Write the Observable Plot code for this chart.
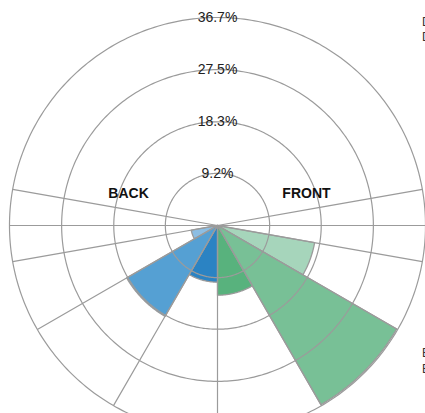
<!DOCTYPE html>
<html><head><meta charset="utf-8">
<script src="https://cdn.jsdelivr.net/npm/d3@7"></script>
<script src="https://cdn.jsdelivr.net/npm/@observablehq/plot@0.6"></script>
<style>
html,body{margin:0;padding:0;background:#fff;overflow:hidden;width:425px;height:413px;}
#chart{position:relative;width:425px;height:413px;overflow:hidden;}
#chart svg{display:block;}
.leg{position:absolute;left:422px;font:12px "Liberation Sans",Arial,sans-serif;line-height:14px;color:#333;white-space:nowrap;}
</style></head><body><div id="chart"></div>
<script>
// sector categories (angles: degrees clockwise from the FRONT direction, pointing right)
const categories = ["Front 10–30°", "Front 30–60°", "Front 60–90°", "Back 90–120°", "Back 120–150°", "Back 150–170°"];
const angleStart = [10, 30, 60, 90, 120, 150];
const angleEnd   = [30, 60, 90, 120, 150, 170];
const shares     = [17.4, 36.5, 12.3, 10.0, 18.5, 4.7];
const colors     = ["#a6d5bb", "#78c096", "#58b27d", "#2b83c3", "#55a0d3", "#8dbee3"];
// grid
const gridAngles  = [-10, 0, 10, 30, 60, 90, 120, 150, 170, 180, 190];
const radialTicks = [9.2, 18.3, 27.5, 36.7];
const maxShare = 36.7;
// side labels
const sideLabels = ["FRONT", "BACK"];
const sideAngles = [-20, 200];
const sideShares = [16.7, 16.7];
// legend (cut off at the right edge in the reference)
const legendTop = ["Driver side", "Driver rear"];
const legendBottom = ["Exterior front", "Exterior rear"];

const lon = a => 90 - a;      // screen angle -> longitude (pole-centred azimuthal projection)
const lat = v => 90 - v;      // share -> latitude (distance from pole)

function sector(a0, a1, v, category) {
  const ring = [[lon(a0), 90]];
  const n = Math.max(8, Math.round((a1 - a0) * 2));
  for (let i = 0; i <= n; i++) ring.push([lon(a0 + (a1 - a0) * i / n), lat(v)]);
  ring.push([lon(a0), 90]);
  const f = {type: "Feature", properties: {category}, geometry: {type: "Polygon", coordinates: [ring]}};
  if (d3.geoArea(f) > 2 * Math.PI) ring.reverse();
  return f;
}
const sectors = categories.map((c, i) => sector(angleStart[i], angleEnd[i], shares[i], c));
const sides = sideLabels.map((t, i) => ({t, a: sideAngles[i], v: sideShares[i]}));

const grid = "#9b9b9b";
const plot = Plot.plot({
  width: 425,
  height: 413,
  marginLeft: 9,
  marginRight: 0,
  marginTop: 17,
  marginBottom: -20,
  projection: {
    type: "azimuthal-equidistant",
    rotate: [0, -90],
    domain: d3.geoCircle().center([0, 90]).radius(maxShare)(),
    clip: false
  },
  color: {domain: categories, range: colors},
  style: {fontFamily: "'Liberation Sans', Arial, sans-serif", overflow: "visible", background: "#fff"},
  marks: [
    Plot.geo(sectors, {fill: d => d.properties.category, stroke: grid, strokeWidth: 1.3}),
    Plot.geo(radialTicks, {geometry: r => d3.geoCircle().center([0, 90]).radius(r).precision(1)(), fill: "none", stroke: grid, strokeWidth: 1.2}),
    Plot.link(gridAngles, {x1: a => lon(a), y1: () => 90, x2: a => lon(a), y2: () => lat(maxShare), stroke: grid, strokeWidth: 1.2}),
    Plot.text(radialTicks, {x: () => -180, y: d => lat(d), text: d => d + "%", fontSize: 14, fill: "#222", lineAnchor: "middle", textAnchor: "middle"}),
    Plot.text(sides, {x: d => lon(d.a), y: d => lat(d.v), text: "t", fontSize: 14, fontWeight: "bold", fill: "#111", lineAnchor: "middle", textAnchor: "middle"})
  ]
});
const chart = document.getElementById("chart");
chart.append(plot);
const legTops = [15, 30, 346, 362];
[...legendTop, ...legendBottom].forEach((t, i) => {
  const d = document.createElement("div");
  d.className = "leg";
  d.style.top = legTops[i] + "px";
  d.textContent = t;
  chart.append(d);
});
</script>
</body></html>
